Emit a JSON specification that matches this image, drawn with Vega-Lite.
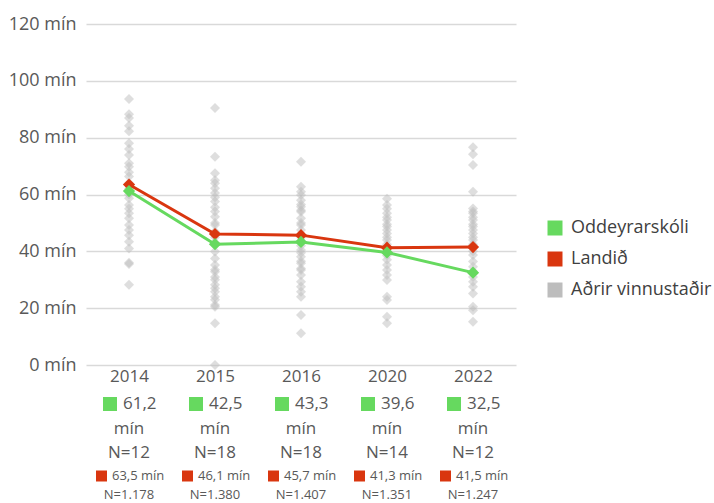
{
  "$schema": "https://vega.github.io/schema/vega-lite/v6.json",
  "width": 430,
  "height": 341,
  "autosize": {"type": "none"},
  "padding": {"left": 86, "top": 24, "right": 198, "bottom": 138},
  "background": "white",
  "config": {"font": "Open Sans", "view": {"stroke": null}},
  "datasets": {
    "others": [
      {"year": "2014", "value": 93.6}, {"year": "2014", "value": 88.2}, {"year": "2014", "value": 86.9}, {"year": "2014", "value": 84.2}, {"year": "2014", "value": 82.3}, {"year": "2014", "value": 78}, {"year": "2014", "value": 76}, {"year": "2014", "value": 73.9}, {"year": "2014", "value": 71}, {"year": "2014", "value": 69.8}, {"year": "2014", "value": 67.8}, {"year": "2014", "value": 66.3}, {"year": "2014", "value": 64}, {"year": "2014", "value": 62}, {"year": "2014", "value": 60}, {"year": "2014", "value": 58.7}, {"year": "2014", "value": 56.3}, {"year": "2014", "value": 55}, {"year": "2014", "value": 53.4}, {"year": "2014", "value": 51.6}, {"year": "2014", "value": 49.3}, {"year": "2014", "value": 47.5}, {"year": "2014", "value": 45.7}, {"year": "2014", "value": 43.4}, {"year": "2014", "value": 41}, {"year": "2014", "value": 36}, {"year": "2014", "value": 35.5}, {"year": "2014", "value": 28.2},
      {"year": "2015", "value": 90.4}, {"year": "2015", "value": 73.3}, {"year": "2015", "value": 67.5}, {"year": "2015", "value": 65}, {"year": "2015", "value": 64}, {"year": "2015", "value": 62.2}, {"year": "2015", "value": 60.5}, {"year": "2015", "value": 59}, {"year": "2015", "value": 57.5}, {"year": "2015", "value": 55.5}, {"year": "2015", "value": 54}, {"year": "2015", "value": 52.2}, {"year": "2015", "value": 50}, {"year": "2015", "value": 49.3}, {"year": "2015", "value": 47}, {"year": "2015", "value": 45}, {"year": "2015", "value": 43}, {"year": "2015", "value": 39.9}, {"year": "2015", "value": 37.5}, {"year": "2015", "value": 35.2}, {"year": "2015", "value": 33.5}, {"year": "2015", "value": 32.8}, {"year": "2015", "value": 31}, {"year": "2015", "value": 30}, {"year": "2015", "value": 28.2}, {"year": "2015", "value": 27}, {"year": "2015", "value": 25.8}, {"year": "2015", "value": 24}, {"year": "2015", "value": 23}, {"year": "2015", "value": 21.1}, {"year": "2015", "value": 20.5}, {"year": "2015", "value": 14.7}, {"year": "2015", "value": 0},
      {"year": "2016", "value": 71.5}, {"year": "2016", "value": 62.7}, {"year": "2016", "value": 61}, {"year": "2016", "value": 59.8}, {"year": "2016", "value": 58}, {"year": "2016", "value": 56.5}, {"year": "2016", "value": 55.7}, {"year": "2016", "value": 54.5}, {"year": "2016", "value": 53.9}, {"year": "2016", "value": 51.6}, {"year": "2016", "value": 50}, {"year": "2016", "value": 49.3}, {"year": "2016", "value": 47.5}, {"year": "2016", "value": 45}, {"year": "2016", "value": 42}, {"year": "2016", "value": 40.5}, {"year": "2016", "value": 39.5}, {"year": "2016", "value": 38.1}, {"year": "2016", "value": 36.5}, {"year": "2016", "value": 35.8}, {"year": "2016", "value": 34}, {"year": "2016", "value": 33.4}, {"year": "2016", "value": 31.7}, {"year": "2016", "value": 29.3}, {"year": "2016", "value": 27.5}, {"year": "2016", "value": 25.8}, {"year": "2016", "value": 24}, {"year": "2016", "value": 17.6}, {"year": "2016", "value": 11.2},
      {"year": "2020", "value": 58.5}, {"year": "2020", "value": 56.3}, {"year": "2020", "value": 55}, {"year": "2020", "value": 53.4}, {"year": "2020", "value": 52}, {"year": "2020", "value": 51}, {"year": "2020", "value": 49.5}, {"year": "2020", "value": 48.7}, {"year": "2020", "value": 47.5}, {"year": "2020", "value": 46.3}, {"year": "2020", "value": 45}, {"year": "2020", "value": 44}, {"year": "2020", "value": 42.5}, {"year": "2020", "value": 41}, {"year": "2020", "value": 38.5}, {"year": "2020", "value": 37}, {"year": "2020", "value": 35.2}, {"year": "2020", "value": 33.4}, {"year": "2020", "value": 31.7}, {"year": "2020", "value": 29.9}, {"year": "2020", "value": 24}, {"year": "2020", "value": 22.9}, {"year": "2020", "value": 17}, {"year": "2020", "value": 14.7},
      {"year": "2022", "value": 76.6}, {"year": "2022", "value": 74.2}, {"year": "2022", "value": 70.4}, {"year": "2022", "value": 61}, {"year": "2022", "value": 55.1}, {"year": "2022", "value": 54}, {"year": "2022", "value": 53.4}, {"year": "2022", "value": 52}, {"year": "2022", "value": 51}, {"year": "2022", "value": 49.5}, {"year": "2022", "value": 48.7}, {"year": "2022", "value": 47.5}, {"year": "2022", "value": 46.3}, {"year": "2022", "value": 45}, {"year": "2022", "value": 44}, {"year": "2022", "value": 42.5}, {"year": "2022", "value": 40}, {"year": "2022", "value": 38.7}, {"year": "2022", "value": 36.4}, {"year": "2022", "value": 34.6}, {"year": "2022", "value": 33}, {"year": "2022", "value": 31}, {"year": "2022", "value": 29.3}, {"year": "2022", "value": 27.5}, {"year": "2022", "value": 25.2}, {"year": "2022", "value": 20.5}, {"year": "2022", "value": 19.3}, {"year": "2022", "value": 15.2}
    ],
    "lines": [
      {"year": "2014", "series": "Landið", "value": 63.5, "n": 1178},
      {"year": "2015", "series": "Landið", "value": 46.1, "n": 1380},
      {"year": "2016", "series": "Landið", "value": 45.7, "n": 1407},
      {"year": "2020", "series": "Landið", "value": 41.3, "n": 1351},
      {"year": "2022", "series": "Landið", "value": 41.5, "n": 1247},
      {"year": "2014", "series": "Oddeyrarskóli", "value": 61.2, "n": 12},
      {"year": "2015", "series": "Oddeyrarskóli", "value": 42.5, "n": 18},
      {"year": "2016", "series": "Oddeyrarskóli", "value": 43.3, "n": 18},
      {"year": "2020", "series": "Oddeyrarskóli", "value": 39.6, "n": 14},
      {"year": "2022", "series": "Oddeyrarskóli", "value": 32.5, "n": 12}
    ]
  },
  "layer": [
    {
      "data": {"name": "others"},
      "mark": {"type": "point", "shape": "diamond", "filled": true, "size": 100, "opacity": 0.5},
      "encoding": {
        "x": {"field": "year", "type": "nominal", "scale": {"type": "point", "padding": 0.5},
          "axis": {"title": null, "domain": false, "ticks": false, "labelAngle": 0, "labelFontSize": 17, "labelColor": "#595959", "labelPadding": 3}},
        "y": {"field": "value", "type": "quantitative", "scale": {"domain": [0, 120]},
          "axis": {"title": null, "values": [0, 20, 40, 60, 80, 100, 120], "labelExpr": "datum.value + ' mín'", "domain": false, "ticks": false, "gridColor": "#d9d9d9", "gridWidth": 1.5, "labelFontSize": 18, "labelColor": "#595959", "labelPadding": 10}},
        "color": {"datum": "Aðrir vinnustaðir", "type": "nominal",
          "scale": {"domain": ["Oddeyrarskóli", "Landið", "Aðrir vinnustaðir"], "range": ["#66d95f", "#d9360f", "#bdbdbd"]},
          "legend": {"title": null, "orient": "none", "legendX": 460, "legendY": 195, "symbolType": "square", "symbolSize": 225, "symbolOpacity": 1, "symbolStrokeWidth": 0, "labelFontSize": 18, "labelColor": "#404040", "rowPadding": 13, "labelOffset": 7}}
      }
    },
    {
      "data": {"name": "lines"},
      "mark": {"type": "line", "strokeWidth": 3},
      "encoding": {
        "x": {"field": "year", "type": "nominal"},
        "y": {"field": "value", "type": "quantitative"},
        "color": {"field": "series", "type": "nominal", "legend": null}
      }
    },
    {
      "data": {"name": "lines"},
      "mark": {"type": "point", "shape": "diamond", "filled": true, "size": 150, "opacity": 1},
      "encoding": {
        "x": {"field": "year", "type": "nominal"},
        "y": {"field": "value", "type": "quantitative"},
        "color": {"field": "series", "type": "nominal", "legend": null}
      }
    },
    {
      "data": {"name": "lines"},
      "transform": [{"filter": "datum.series == 'Oddeyrarskóli'"}],
      "mark": {"type": "square", "filled": true, "size": 196, "opacity": 1, "color": "#66d95f"},
      "encoding": {
        "x": {"field": "year", "type": "nominal"},
        "y": {"datum": 0},
        "xOffset": {"value": -19},
        "yOffset": {"value": 39}
      }
    },
    {
      "data": {"name": "lines"},
      "transform": [{"filter": "datum.series == 'Oddeyrarskóli'"}, {"calculate": "replace(format(datum.value, '.1f'), '.', ',')", "as": "lab"}],
      "mark": {"type": "text", "align": "left", "baseline": "middle", "dx": -6, "dy": 39, "fontSize": 17, "color": "#595959"},
      "encoding": {
        "x": {"field": "year", "type": "nominal"},
        "y": {"datum": 0},
        "text": {"field": "lab"}
      }
    },
    {
      "data": {"name": "lines"},
      "transform": [{"filter": "datum.series == 'Oddeyrarskóli'"}],
      "mark": {"type": "text", "align": "center", "baseline": "middle", "dy": 64, "fontSize": 17, "color": "#595959", "text": "mín"},
      "encoding": {
        "x": {"field": "year", "type": "nominal"},
        "y": {"datum": 0}
      }
    },
    {
      "data": {"name": "lines"},
      "transform": [{"filter": "datum.series == 'Oddeyrarskóli'"}, {"calculate": "'N=' + datum.n", "as": "lab"}],
      "mark": {"type": "text", "align": "center", "baseline": "middle", "dy": 88, "fontSize": 17, "color": "#595959"},
      "encoding": {
        "x": {"field": "year", "type": "nominal"},
        "y": {"datum": 0},
        "text": {"field": "lab"}
      }
    },
    {
      "data": {"name": "lines"},
      "transform": [{"filter": "datum.series == 'Landið'"}],
      "mark": {"type": "square", "filled": true, "size": 121, "opacity": 1, "color": "#d9360f"},
      "encoding": {
        "x": {"field": "year", "type": "nominal"},
        "y": {"datum": 0},
        "xOffset": {"value": -27.5},
        "yOffset": {"value": 111}
      }
    },
    {
      "data": {"name": "lines"},
      "transform": [{"filter": "datum.series == 'Landið'"}, {"calculate": "replace(format(datum.value, '.1f'), '.', ',') + ' mín'", "as": "lab"}],
      "mark": {"type": "text", "align": "left", "baseline": "middle", "dx": -17, "dy": 111, "fontSize": 13, "color": "#595959"},
      "encoding": {
        "x": {"field": "year", "type": "nominal"},
        "y": {"datum": 0},
        "text": {"field": "lab"}
      }
    },
    {
      "data": {"name": "lines"},
      "transform": [{"filter": "datum.series == 'Landið'"}, {"calculate": "'N=' + replace(format(datum.n, ','), ',', '.')", "as": "lab"}],
      "mark": {"type": "text", "align": "center", "baseline": "middle", "dy": 130, "fontSize": 13, "color": "#595959"},
      "encoding": {
        "x": {"field": "year", "type": "nominal"},
        "y": {"datum": 0},
        "text": {"field": "lab"}
      }
    }
  ]
}
